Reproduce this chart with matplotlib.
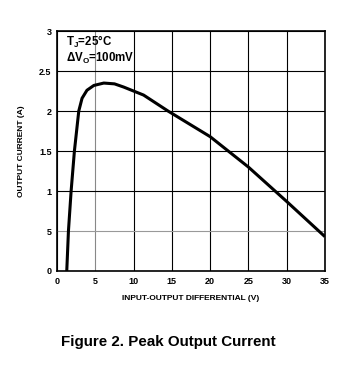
import matplotlib
matplotlib.use("Agg")
import matplotlib.pyplot as plt

# Data
vdiff = [1.26, 1.48, 1.83, 2.26, 2.83, 3.26, 3.9, 4.8, 6.1, 7.5, 8.7, 11.3, 14.5, 20.0, 25.0, 30.0, 35.0]
iout = [0.0, 0.5, 1.0, 1.5, 2.0, 2.16, 2.26, 2.32, 2.35, 2.34, 2.30, 2.2, 2.0, 1.68, 1.3, 0.87, 0.43]

xticks = [0, 5, 10, 15, 20, 25, 30, 35]
yticks = [0, 0.5, 1, 1.5, 2, 2.5, 3]
yticklabels = ["0", "5", "1", "1.5", "2", "2.5", "3"]

plt.rcParams['font.family'] = ['Liberation Sans', 'DejaVu Sans']
plt.rcParams['mathtext.fontset'] = 'custom'
plt.rcParams['mathtext.bf'] = 'Liberation Sans:bold'
plt.rcParams['mathtext.rm'] = 'Liberation Sans:bold'

fig = plt.figure(figsize=(3.57, 3.70), dpi=100)
ax = fig.add_axes([0.16, 0.2676, 0.75, 0.6484])

ax.plot(vdiff, iout, color='black', lw=2.2, solid_capstyle='butt', solid_joinstyle='round')
ax.set_xlim(0, 35)
ax.set_ylim(0, 3)
ax.set_xticks(xticks)
ax.set_xticklabels([str(t) for t in xticks], fontsize=6.5, fontweight='bold')
ax.set_yticks(yticks)
ax.set_yticklabels(yticklabels, fontsize=6.5, fontweight='bold')
ax.tick_params(length=0, pad=4)
ax.grid(True, color='black', lw=0.8)
for gl in ax.get_ygridlines():
    if abs(gl.get_ydata()[0] - 0.5) < 1e-6:
        gl.set_color('#999999')
for gl in ax.get_xgridlines():
    if abs(gl.get_xdata()[0] - 5) < 1e-6:
        gl.set_color('#888888')
for s in ax.spines.values():
    s.set_linewidth(1.2)

ax.set_xlabel('INPUT-OUTPUT DIFFERENTIAL (V)', fontsize=6, fontweight='bold', labelpad=7)
ax.set_ylabel('OUTPUT CURRENT (A)', fontsize=6, fontweight='bold', labelpad=10)

ax.text(0.035, 0.94, r'T$_{\mathbf{J}}$=25°C', transform=ax.transAxes, fontsize=8.3,
        fontweight='bold', va='baseline', ha='left')
ax.text(0.035, 0.873, r'ΔV$_{\mathbf{O}}$=100mV', transform=ax.transAxes, fontsize=8.3,
        fontweight='bold', va='baseline', ha='left')

fig.text(0.172, 0.065, 'Figure 2. Peak Output Current', fontsize=10.9, fontweight='bold',
         ha='left', va='baseline')

fig.savefig('out.png', dpi=100)
